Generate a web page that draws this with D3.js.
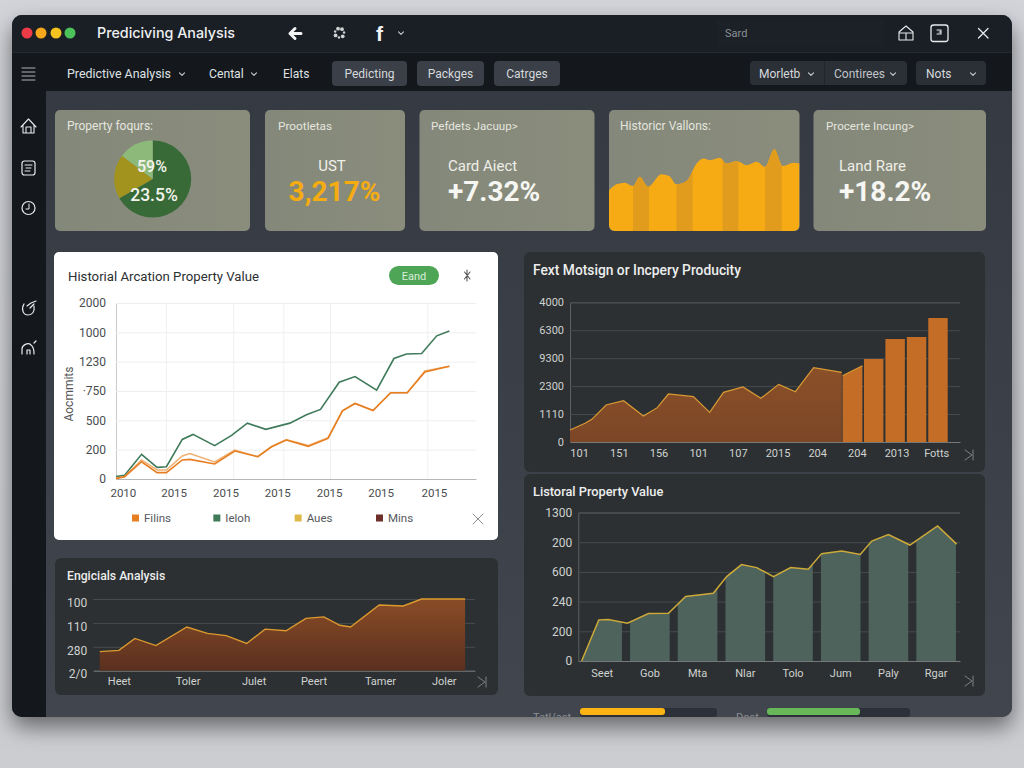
<!DOCTYPE html>
<html>
<head>
<meta charset="utf-8">
<script src="https://d3js.org/d3.v7.min.js"></script>
<style>
  html, body { margin:0; padding:0; background:#d4d6da; }
  svg { display:block; font-family:Roboto, sans-serif; }
  .tick text { font-family:Roboto, sans-serif; }
</style>
</head>
<body>
<svg width="1024" height="768"></svg>
<script>
// pie card
const pieValues = [66.7, 18.6, 14.7];
const pieColors = ["#376a36", "#a2931f", "#8dba7a"];

// historic values sparkline
const sparkX = [0,3.9,8.2,12.6,16.1,20.5,27.5,31.6,35.4,40.7,46,49.5,53,58.2,61.8,67,72.3,77.5,81.9,86.8,91.2,96.8,100];
const sparkY = [49,56,58,54,65,53,68,66,56,60,81,87,85,88,81,84,79,83,77,98,78,82,81];
const sparkStripeStart = [12.6,35.4,59.6,81.9];
const sparkStripeEnd = [21,43.9,67.9,90.7];

// white line chart
const lineYTicks = [0,250,500,750,1000,1250,1500];
const lineYLabels = ["0","200","500","·750","1230","1000","2000"];
const lineXTicks = [1.9,16,30.4,44.8,59.2,73.5,88.3];
const lineXLabels = ["2010","2015","2015","2015","2015","2015","2015"];
const lineXGrid = [14,32.7,46.6,59.6,86.6];
const ieX = [0,2.4,7.1,11.4,14,18.4,21.4,27.4,32.1,36.5,41.6,48.3,52.9,56.8,62,66.4,72.4,77.2,80.7,84.9,89.1,92.6];
const ieY = [20,31,210,99,105,337,380,284,372,476,423,476,547,593,825,873,757,1027,1066,1069,1220,1262];
const riX = [0,2.4,7.1,11.4,14,18.4,20.5,27.4,33,39.4,43.2,47.3,53.4,58.9,62.9,66.4,71.4,76.3,80.9,85.8,92.6];
const riY = [3,20,147,54,54,162,167,128,238,190,275,332,278,346,581,644,584,735,735,913,961];
const auY = [9,20,162,77,77,196,218,145,247,190,275,337,286,352,581,644,584,735,735,922,961];
const legendNames = ["Filins","Ieloh","Aues","Mins"];
const legendColors = ["#e67e22","#3f7a5a","#e0b84a","#6e2f2a"];

// top right chart
const prodYTicks = [0,1000,2000,3000,4000,5000];
const prodYLabels = ["0","1110","2300","9300","6300","4000"];
const prodXLabels = ["101","151","156","101","107","2015","204","204","2013","Fotts"];
const prodX = [-0.23,0.15,0.32,0.68,1.12,1.62,1.97,2.25,2.88,3.29,3.64,4.13,4.58,5.03,5.45,5.91,6.62];
const prodY = [429,668,811,1324,1479,931,1229,1718,1622,1062,1778,1968,1563,2064,1801,2660,2493];
const rampX = [6.64,7.14];
const rampY = [2374,2732];
const barX = [7.18,7.72,8.26,8.80];
const barY = [2971,3686,3758,4438];

// bottom right chart
const valueYTicks = [0,200,400,600,800,1000];
const valueYLabels = ["0","200","240","600","200","1300"];
const valueCats = ["Seet","Gob","Mta","Nlar","Tolo","Jum","Paly","Rgar"];
const valueX = [0.07,0.43,0.63,1.03,1.47,1.89,2.25,2.83,3.11,3.42,3.74,4.09,4.45,4.82,5.1,5.52,5.91,6.15,6.5,6.95,7.53,7.93];
const valueY = [0,277,280,255,320,322,434,456,568,649,629,568,629,618,723,740,718,808,852,781,910,787];

// bottom left chart
const engYTicks = [0,100,200,300];
const engYLabels = ["2/0","280","110","100"];
const engXTicks = [6.7,24.7,42,57.7,75.1,91.8];
const engXLabels = ["Heet","Toler","Julet","Peert","Tamer","Joler"];
const engX = [1.7,6.7,10.9,16.4,24.5,29.9,34.8,40.2,45,50.5,55.7,60.4,64.6,67.4,74.9,81.2,86,97.4];
const engY = [80,85,135,105,183,156,147,114,174,167,219,225,190,183,275,271,300,300];

const svg = d3.select("svg");
const defs = svg.append("defs");

function gradient(id, stops, vertical) {
  const g = defs.append("linearGradient").attr("id", id)
    .attr("x1",0).attr("y1",0).attr("x2",vertical ? 0 : 1).attr("y2",vertical ? 1 : 0);
  stops.forEach(s => g.append("stop").attr("offset", s[0]).attr("stop-color", s[1]));
}
gradient("pageBg", [["0%","#d2d4d9"],["100%","#cccdd1"]], true);
gradient("contentBg", [["0%","#343941"],["100%","#41464e"]], true);
gradient("cardBg", [["0%","#84887a"],["100%","#8a8d7c"]], false);
gradient("engFill", [["0%","#8a4c27"],["100%","#5a301f"]], true);
gradient("prodFill", [["0%","#8a5029"],["100%","#7c4626"]], true);

const shadow = defs.append("filter").attr("id","winShadow")
  .attr("x","-6%").attr("y","-6%").attr("width","112%").attr("height","118%");
shadow.append("feDropShadow").attr("dx",0).attr("dy",10).attr("stdDeviation",11)
  .attr("flood-color","#000").attr("flood-opacity",0.5);

function rect(x, y, w, h, fill, r, parent) {
  return (parent || svg).append("rect").attr("x",x).attr("y",y).attr("width",w).attr("height",h)
    .attr("fill",fill).attr("rx",r || 0);
}
function txt(x, y, s, size, fill, weight, anchor, parent) {
  return (parent || svg).append("text").attr("x",x).attr("y",y).text(s)
    .style("font-size",size+"px").style("font-weight",weight || 400)
    .attr("fill",fill).attr("text-anchor",anchor || "start");
}
function icon(d, color, w, parent) {
  return (parent || svg).append("path").attr("d",d).attr("fill","none")
    .attr("stroke",color || "#e8eaec").attr("stroke-width",w || 1.3)
    .attr("stroke-linecap","round").attr("stroke-linejoin","round");
}
function chevron(x, y, color) {
  icon(`M${x-2.5},${y-1.2} L${x},${y+1.3} L${x+2.5},${y-1.2}`, color || "#c8ccd0", 1.1);
}

// page and window
rect(0,0,1024,768,"url(#pageBg)");
rect(12,15,1000,702,"#353a42",10).attr("filter","url(#winShadow)");

const clipWin = defs.append("clipPath").attr("id","winClip");
rect(12,15,1000,702,"#000",10,clipWin);
const win = svg.append("g").attr("clip-path","url(#winClip)");

rect(12,15,1000,702,"url(#contentBg)",0,win);
rect(12,15,1000,37,"#1a1f25",0,win);
rect(12,52,1000,39,"#14181d",0,win);
rect(12,52,34,665,"#14181d",0,win);
rect(12,52,1000,1,"#242a30",0,win);

// title bar
[[27,"#ee3b48"],[41,"#f5a81c"],[56,"#f3c41f"],[70,"#4cc35a"]].forEach(d => {
  svg.append("circle").attr("cx",d[0]).attr("cy",33).attr("r",5.5).attr("fill",d[1]);
});
txt(97,38,"Prediciving Analysis",14.3,"#eef0f2",500).style("font-family","Inter");
icon("M301,33.5 L290,33.5 M295,28.5 L290,33.5 L295,38.5","#f2f3f4",3);
// splat icon
svg.append("g").selectAll("circle").data(d3.range(7)).join("circle")
  .attr("cx",d => 339.5 + 4.6*Math.cos(d*Math.PI*2/7 - 1))
  .attr("cy",d => 33 + 4.6*Math.sin(d*Math.PI*2/7 - 1))
  .attr("r",d => d % 2 ? 1.2 : 1.9).attr("fill","#cfd1d3");
txt(376,41,"f",21,"#f2f3f4",700).style("font-family","Liberation Sans");
chevron(401,33);
rect(717,19,167,28,"#1c2127",0);
txt(725,37,"Sard",11,"#8b9096");
icon("M899,32 L906,26 L913,32 L913,40 L899,40 Z M899,33 L913,33 M906,33 L906,39",null,1.1);
svg.append("rect").attr("x",931).attr("y",25).attr("width",17).attr("height",16.5).attr("rx",2.5)
  .attr("fill","none").attr("stroke","#e8eaec").attr("stroke-width",1.3);
icon("M937,30 L941,30 L941,34 L937,34 M939,32 L941,32",null,1.1);
icon("M978.5,28.5 L988,38 M988,28.5 L978.5,38");

// nav bar
icon("M22,68 L35,68 M22,72 L35,72 M22,76 L35,76 M22,80 L35,80","#aeb2b7",1);
txt(67,78,"Predictive Analysis",12.4,"#dfe2e4");
chevron(182,74);
txt(209,78,"Cental",12.2,"#dfe2e4");
chevron(254,74);
txt(283,78,"Elats",12,"#dfe2e4");
[[332,75,"Pedicting"],[417,67,"Packges"],[494,66,"Catrges"]].forEach(d => {
  rect(d[0],61,d[1],25,"#3a3f48",4);
  txt(d[0]+d[1]/2,78,d[2],12,"#d6d9db",400,"middle");
});
rect(750,61,157,24,"#2b3037",4);
rect(824,61,1,24,"#23272d");
txt(759,78,"Morletb",12,"#d6d9db");
chevron(811,74);
txt(834,78,"Contirees",12,"#c0c4c8");
chevron(893,74);
rect(916,61,70,24,"#2b3037",4);
txt(926,78,"Nots",12,"#d6d9db");
chevron(973,74);

// side bar icons
icon("M21,127 L28.5,119 L36,127 M23,125 L23,133 L34,133 L34,125 M26,133 L26,127 L31,127 L31,133",null,1.1);
svg.append("rect").attr("x",22).attr("y",161).attr("width",13).attr("height",14).attr("rx",2.5)
  .attr("fill","none").attr("stroke","#e8eaec").attr("stroke-width",1.2);
icon("M25,165 L32,165 M26,168 L31,168 M25,171 L30,171",null,1);
svg.append("circle").attr("cx",28.5).attr("cy",208).attr("r",6.5)
  .attr("fill","none").attr("stroke","#e8eaec").attr("stroke-width",1.2);
icon("M29,204 L29,209 L26,209",null,1);
icon("M24,304 C21,309 23,315 28,315 C32,315 35,312 34,306 M27,306 L31,303 L36,301 M30,308 L34,304",null,1.2);
icon("M22,354 L22,349 C22,345 28,342 31,345 C34,347 34,351 34,354 M27,354 L27,350 L30,350 L30,354 M34,343 L36,341",null,1.2);

// top cards
const topCards = [[55,195],[265,140],[419.5,175],[609,190.5],[813.5,172.5]];
topCards.forEach(d => rect(d[0],110,d[1],121,"url(#cardBg)",5));
txt(67,130,"Property foqurs:",12,"#e4e5df");
txt(278,130,"Prootletas",11.8,"#e4e5df");
txt(431,130,"Pefdets Jacuup>",11.6,"#e4e5df");
txt(620,130,"Historicr Vallons:",12,"#e4e5df");
txt(826,130,"Procerte Incung>",11.6,"#e4e5df");

// pie
const pie = d3.pie().sort(null)(pieValues);
const arc = d3.arc().innerRadius(0).outerRadius(38.5);
svg.append("g").attr("transform","translate(152.7,179)")
  .selectAll("path").data(pie).join("path")
  .attr("d",arc).attr("fill",(d,i) => pieColors[i]);
txt(152,172,"59%",16,"#f4f4ee",500,"middle");
txt(154,201,"23.5%",17.5,"#f4f4ee",500,"middle");

txt(332,171,"UST",15,"#f0f0ea",400,"middle");
txt(334.5,201,"3,217%",28,"#f5ac12",700,"middle");
txt(448,171,"Card Aiect",15,"#eeeee8");
txt(448,201,"+7.32%",28,"#f6f6f2",700);
txt(839,171,"Land Rare",15,"#eeeee8");
txt(839,201,"+18.2%",28,"#f6f6f2",700);

// sparkline card
const sx = d3.scaleLinear().domain([0,100]).range([609,799.5]);
const sy = d3.scaleLinear().domain([0,100]).range([231,147.7]);
const sparkData = sparkX.map((x,i) => ({x:x, y:sparkY[i]}));
const sparkArea = d3.area().curve(d3.curveMonotoneX).x(d => sx(d.x)).y0(sy(0)).y1(d => sy(d.y));
defs.append("clipPath").attr("id","sparkClip").append("path").datum(sparkData).attr("d",sparkArea);
const cardClip = defs.append("clipPath").attr("id","sparkCard");
rect(609,110,190.5,121,"#000",6,cardClip);
const spark = svg.append("g").attr("clip-path","url(#sparkCard)");
spark.append("path").datum(sparkData).attr("d",sparkArea).attr("fill","#f6aa14");
spark.append("g").attr("clip-path","url(#sparkClip)")
  .selectAll("rect").data(sparkStripeStart).join("rect")
  .attr("x",d => sx(d)).attr("y",110)
  .attr("width",(d,i) => sx(sparkStripeEnd[i]) - sx(d)).attr("height",121)
  .attr("fill","#dd9a20").attr("opacity",0.85);

// line chart card
rect(54,252,444,288,"#ffffff",5);
txt(68,281,"Historial Arcation Property Value",13.2,"#2c2f33");
rect(389,266,50,19,"#4fa556",9.5);
txt(414,280,"Eand",11,"#d8eeda",400,"middle");
icon("M464.5,272 L470,279 M470,272 L464.5,279 M467,270 L467,281","#555",1.1);
txt(0,0,"Aocmmits",12,"#555",400,"middle").attr("transform","translate(73,394) rotate(-90)");

const lx = d3.scaleLinear().domain([0,100]).range([116,476]);
const ly = d3.scaleLinear().domain([0,1500]).range([479,303]);
const lineGrid = svg.append("g");
lineGrid.selectAll("line").data(lineXGrid).join("line")
  .attr("x1",d => lx(d)).attr("x2",d => lx(d)).attr("y1",ly(1500)).attr("y2",ly(0))
  .attr("stroke","#f0f0f0");
const lyAxis = svg.append("g").attr("transform","translate(116,0)")
  .call(d3.axisLeft(ly).tickValues(lineYTicks).tickFormat((d,i) => lineYLabels[i]).tickSize(-360).tickPadding(10));
lyAxis.select(".domain").attr("stroke","#c9cbce");
lyAxis.selectAll(".tick line").attr("stroke","#eeeeee");
lyAxis.selectAll(".tick text").attr("fill","#4a4d50").style("font-size","12px");
const lxAxis = svg.append("g").attr("transform","translate(0,479)")
  .call(d3.axisBottom(lx).tickValues(lineXTicks).tickFormat((d,i) => lineXLabels[i]).tickSize(0).tickPadding(10));
lxAxis.select(".domain").attr("stroke","#b4b7ba");
lxAxis.selectAll(".tick text").attr("fill","#4a4d50").style("font-size","11.5px");

const linePath = d3.line().x(d => lx(d.x)).y(d => ly(d.y));
const rows = (xs, ys) => xs.map((x,i) => ({x:x, y:ys[i]}));
svg.append("path").datum(rows(ieX,ieY)).attr("d",linePath)
  .attr("fill","none").attr("stroke","#3f7a5a").attr("stroke-width",1.6);
svg.append("path").datum(rows(riX,auY)).attr("d",linePath)
  .attr("fill","none").attr("stroke","#f0b070").attr("stroke-width",1.5);
svg.append("path").datum(rows(riX,riY)).attr("d",linePath)
  .attr("fill","none").attr("stroke","#e67e22").attr("stroke-width",1.6);

const legendX = d3.scalePoint().domain(legendNames).range([132,376]);
const legend = svg.append("g").selectAll("g").data(legendNames).join("g")
  .attr("transform",d => `translate(${legendX(d)},518)`);
legend.append("rect").attr("y",-3.5).attr("width",7).attr("height",7).attr("fill",(d,i) => legendColors[i]);
legend.append("text").attr("x",12).attr("y",4).text(d => d).attr("fill","#55585b").style("font-size","11.5px");
icon("M473,514 L483,524 M483,514 L473,524","#8a8d90",1);

// dark cards
rect(55,558,443,137,"#2c3032",6);
rect(524,252,461,220,"#2c3032",6);
rect(524,474,461,222,"#2c3032",6);
txt(533,275,"Fext Motsign or Incpery Producity",13.8,"#eceeee",500);
txt(533,496,"Listoral Property Value",12.8,"#eceeee",500);
txt(67,580,"Engicials Analysis",12.2,"#eceeee",500);

function darkAxes(ax, ay) {
  [ax, ay].forEach(a => {
    a.selectAll(".tick text").attr("fill","#cfd2d0").style("font-size","11px");
  });
  ay.selectAll(".tick line").attr("stroke","#474b4d");
  ay.select(".domain").attr("stroke","#5c6062");
  ax.select(".domain").attr("stroke","#75797a");
}

// productivity chart
const px = d3.scaleLinear().domain([-0.23,9.6]).range([570,960]);
const py = d3.scaleLinear().domain([0,5000]).range([442,302.3]);
const pyAxis = svg.append("g").attr("transform","translate(570,0)")
  .call(d3.axisLeft(py).tickValues(prodYTicks).tickFormat((d,i) => prodYLabels[i]).tickSize(-390).tickPadding(6));
const pxAxis = svg.append("g").attr("transform","translate(0,442)")
  .call(d3.axisBottom(px).tickValues(d3.range(prodXLabels.length)).tickFormat((d,i) => prodXLabels[i]).tickSize(0).tickPadding(7));
darkAxes(pxAxis, pyAxis);

const prodArea = d3.area().x(d => px(d.x)).y0(py(0)).y1(d => py(d.y));
const prodLine = d3.line().x(d => px(d.x)).y(d => py(d.y));
svg.append("path").datum(rows(prodX,prodY)).attr("d",prodArea).attr("fill","url(#prodFill)");
svg.append("path").datum(rows(prodX,prodY)).attr("d",prodLine)
  .attr("fill","none").attr("stroke","#d99a33").attr("stroke-width",1.2);
svg.append("path").datum(rows(rampX,rampY)).attr("d",prodArea).attr("fill","#c46d26");
svg.append("path").datum(rows(rampX,rampY)).attr("d",prodLine)
  .attr("fill","none").attr("stroke","#d99a33").attr("stroke-width",1.2);
svg.append("g").selectAll("rect").data(barX).join("rect")
  .attr("x",d => px(d)).attr("width",px(0.49) - px(0))
  .attr("y",(d,i) => py(barY[i])).attr("height",(d,i) => py(0) - py(barY[i]))
  .attr("fill","#c46d26");

// property value chart
const vBand = d3.scaleBand().domain(valueCats).range([578.3,960]).paddingInner(0.17).paddingOuter(0.085);
const vx = d3.scaleLinear().domain([0,8]).range([578.3,960]);
const vy = d3.scaleLinear().domain([0,1000]).range([661,512.5]);
const vyAxis = svg.append("g").attr("transform","translate(578.3,0)")
  .call(d3.axisLeft(vy).tickValues(valueYTicks).tickFormat((d,i) => valueYLabels[i]).tickSize(-381.7).tickPadding(6));
const vxAxis = svg.append("g").attr("transform","translate(0,661)")
  .call(d3.axisBottom(vBand).tickSize(0).tickPadding(8));
darkAxes(vxAxis, vyAxis);
vyAxis.selectAll(".tick text").style("font-size","12px");

const valueData = rows(valueX,valueY);
const valueBars = defs.append("clipPath").attr("id","valueBars");
valueBars.selectAll("rect").data(valueCats).join("rect")
  .attr("x",d => vBand(d)).attr("width",vBand.bandwidth()).attr("y",500).attr("height",170);
svg.append("path").datum(valueData)
  .attr("d",d3.area().x(d => vx(d.x)).y0(vy(0)).y1(d => vy(d.y)))
  .attr("fill","#4d635c").attr("clip-path","url(#valueBars)");
svg.append("path").datum(valueData)
  .attr("d",d3.line().x(d => vx(d.x)).y(d => vy(d.y)))
  .attr("fill","none").attr("stroke","#cda93a").attr("stroke-width",1.5);

// engineering chart
const ex = d3.scaleLinear().domain([0,100]).range([93.3,475]);
const ey = d3.scaleLinear().domain([0,300]).range([670.7,599]);
const eyAxis = svg.append("g").attr("transform","translate(93.3,0)")
  .call(d3.axisLeft(ey).tickValues(engYTicks).tickFormat((d,i) => engYLabels[i]).tickSize(-381.7).tickPadding(6));
const exAxis = svg.append("g").attr("transform","translate(0,670.7)")
  .call(d3.axisBottom(ex).tickValues(engXTicks).tickFormat((d,i) => engXLabels[i]).tickSize(0).tickPadding(7));
darkAxes(exAxis, eyAxis);
eyAxis.select(".domain").attr("stroke","none");
eyAxis.selectAll(".tick text").style("font-size","12px").attr("dy","0.6em");

const engData = rows(engX,engY);
svg.append("path").datum(engData)
  .attr("d",d3.area().x(d => ex(d.x)).y0(ey(0)).y1(d => ey(d.y)))
  .attr("fill","url(#engFill)");
svg.append("path").datum(engData)
  .attr("d",d3.line().x(d => ex(d.x)).y(d => ey(d.y)))
  .attr("fill","none").attr("stroke","#dc9a2e").attr("stroke-width",1.4);

// corner marks on the dark cards
[[969,455],[969,681],[482,682]].forEach(d => {
  icon(`M${d[0]-4},${d[1]-5} L${d[0]+3},${d[1]} L${d[0]-4},${d[1]+5} M${d[0]+4},${d[1]-5} L${d[0]+4},${d[1]+5}`,"#7d8184",1);
});

// progress bars cut by the window edge
rect(580,708,137,9,"#2c3038",3,win);
rect(580,708,85,7,"#fbb414",3,win);
rect(767,708,143,9,"#2c3038",3,win);
rect(767,708,93,7,"#68b85a",3,win);
txt(533,721,"Tatl/ast",11,"#8a8e92",400,"start",win);
txt(736,721,"Dost",11,"#8a8e92",400,"start",win);
</script>
</body>
</html>
